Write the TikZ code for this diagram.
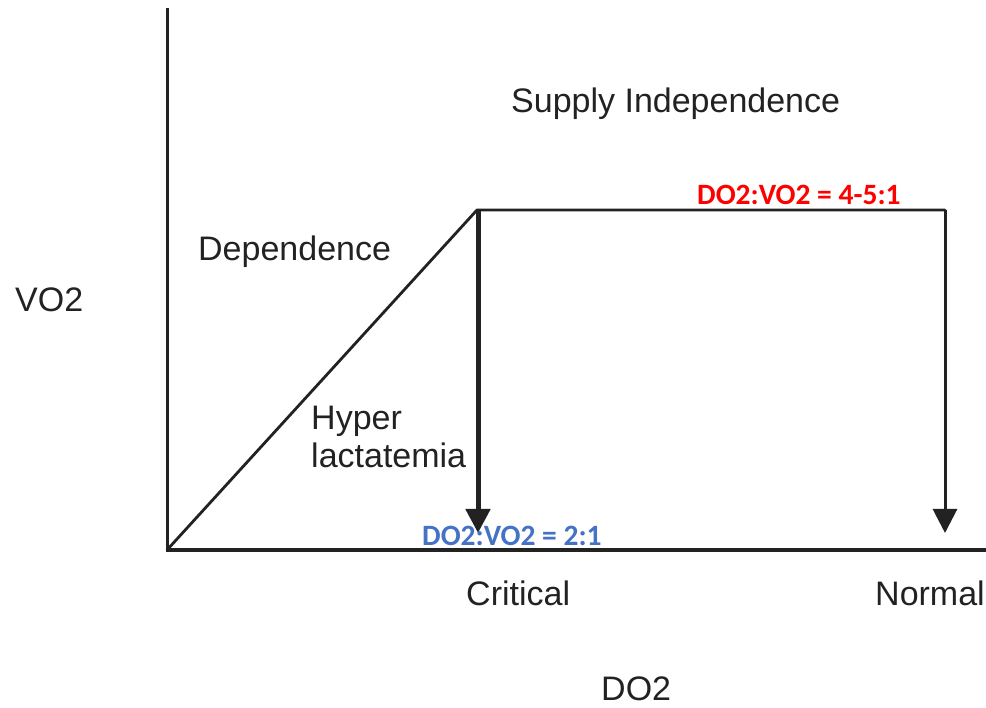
\documentclass[tikz,border=0pt]{standalone}
\usepackage{fontspec}
\setmainfont{Liberation Sans}
\newfontfamily\ratiofont{Carlito}
\usetikzlibrary{arrows.meta}
\definecolor{ink}{HTML}{222222}
\definecolor{ratiored}{HTML}{FF0000}
\definecolor{ratioblue}{HTML}{4472C4}
\begin{document}
\begin{tikzpicture}[x=1pt,y=-1pt,
  axis/.style={draw=ink,line width=3pt},
  curve/.style={draw=ink,line width=2.8pt,line cap=round,line join=round},
  drop/.style={draw=ink,-{Triangle[width=24pt,length=24pt]}},
  lbl/.style={anchor=base west,inner sep=0pt,text=ink,font=\fontsize{34}{39}\selectfont},
  ratio/.style={anchor=base west,inner sep=0pt,font=\ratiofont\bfseries\fontsize{29.5}{34}\selectfont}]
  \useasboundingbox (0,0) rectangle (986,708);
  % axes
  \coordinate (ytop) at (167,8);
  \coordinate (O) at (167,550);
  \coordinate (xend) at (986,550);
  \draw[axis] (ytop) -- (O) -- (xend);
  % oxygen consumption curve
  \coordinate (crit) at (477,210);
  \coordinate (norm) at (945,210);
  \draw[curve] (O) -- (crit) -- (norm);
  \coordinate (critfoot) at (478,533);
  \coordinate (normfoot) at (945,533);
  \draw[drop,line width=5pt] (478,210) -- (critfoot);
  \draw[drop,line width=3pt] (norm) -- (normfoot);
  % labels
  \node[lbl] (supply) at (511,113) {Supply Independence};
  \node[lbl] (dep) at (198,261) {Dependence};
  \node[lbl] (vo2) at (15,312) {VO2};
  \node[lbl] (hyper) at (311,430) {Hyper};
  \node[lbl] (lact) at (311,468) {lactatemia};
  \node[lbl] (critical) at (466,605) {Critical};
  \node[lbl] (normal) at (875,605) {Normal};
  \node[lbl] (do2) at (601,700) {DO2};
  \node[ratio,text=ratiored] (rnorm) at (697,205) {DO2:VO2 = 4-5:1};
  \node[ratio,text=ratioblue] (rcrit) at (422,545) {DO2:VO2 = 2:1};
\end{tikzpicture}
\end{document}
